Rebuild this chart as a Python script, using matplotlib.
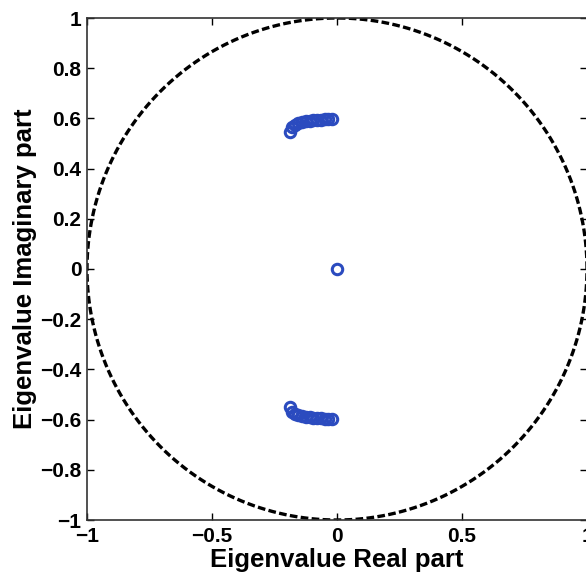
import numpy as np
import matplotlib
matplotlib.use("Agg")
import matplotlib.pyplot as plt

plt.rcParams['font.family'] = ['Liberation Sans', 'DejaVu Sans']

# Eigenvalues (real, imag)
upper_re = [-0.19, -0.18, -0.17, -0.155, -0.14, -0.125, -0.11, -0.095, -0.08, -0.065, -0.05, -0.035, -0.02]
upper_im = [0.545, 0.565, 0.575, 0.580, 0.585, 0.588, 0.590, 0.592, 0.594, 0.595, 0.596, 0.597, 0.598]
lower_re = [-0.19, -0.18, -0.17, -0.155, -0.14, -0.125, -0.11, -0.095, -0.08, -0.065, -0.05, -0.035, -0.02]
lower_im = [-0.550, -0.568, -0.577, -0.582, -0.586, -0.589, -0.591, -0.593, -0.594, -0.595, -0.596, -0.597, -0.598]
center_re = [0.0]
center_im = [0.0]

xticks = [-1, -0.5, 0, 0.5, 1]
yticks = [-1, -0.8, -0.6, -0.4, -0.2, 0, 0.2, 0.4, 0.6, 0.8, 1]
xticklabels = ['\u22121', '\u22120.5', '0', '0.5', '1']
yticklabels = ['\u22121', '\u22120.8', '\u22120.6', '\u22120.4', '\u22120.2', '0', '0.2', '0.4', '0.6', '0.8', '1']

fig = plt.figure(figsize=(5.86, 5.77), dpi=100)
ax = fig.add_axes([87/586, 1 - 520/577, 500/586, 502/577])

theta = np.linspace(0, 2*np.pi, 721)
ax.plot(np.cos(theta), np.sin(theta), color='black', linestyle=(0, (2.3, 1.0)), linewidth=2.4)

re = upper_re + lower_re + center_re
im = upper_im + lower_im + center_im
ax.plot(re, im, linestyle='none', marker='o', markersize=7.5, markerfacecolor='none',
        markeredgecolor='#2b4bbf', markeredgewidth=2.2)

ax.set_xlim(-1, 1)
ax.set_ylim(-1, 1)
ax.set_xticks(xticks)
ax.set_yticks(yticks)
ax.set_xticklabels(xticklabels)
ax.set_yticklabels(yticklabels)
ax.tick_params(direction='in', top=True, right=True, length=5, width=1, labelsize=15)
ax.tick_params(axis='x', pad=5)
ax.tick_params(axis='y', pad=4)
for lab in ax.get_xticklabels() + ax.get_yticklabels():
    lab.set_fontweight('bold')
for s in ax.spines.values():
    s.set_linewidth(1.2)
    s.set_color('#333333')

ax.set_xlabel('Eigenvalue Real part', fontsize=18.5, fontweight='bold', labelpad=1.5)
ax.set_ylabel('Eigenvalue Imaginary part', fontsize=18.5, fontweight='bold', labelpad=2)

fig.savefig('out.png', dpi=100)
